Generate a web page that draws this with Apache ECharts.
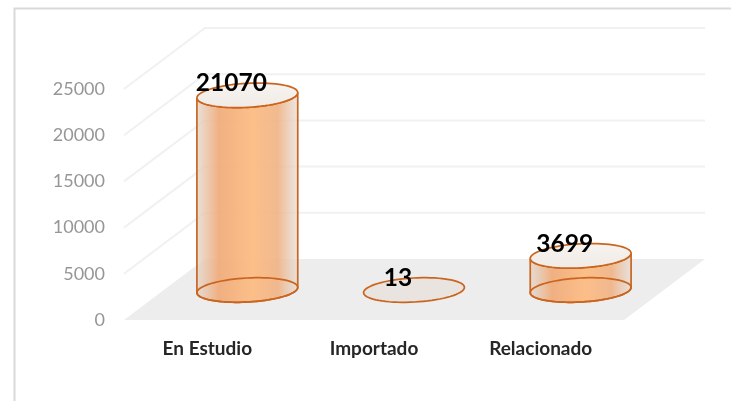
<!DOCTYPE html>
<html>
<head>
<meta charset="utf-8">
<style>html,body{margin:0;padding:0;background:#fff}#c{width:731px;height:401px}</style>
<script src="https://cdn.jsdelivr.net/npm/echarts@6/dist/echarts.min.js"></script>
</head>
<body>
<div id="c"></div>
<script>
const categories = ['En Estudio', 'Importado', 'Relacionado'];
const values = [21070, 13, 3699];
const gridTicks = [0, 5000, 10000, 15000, 20000, 25000];

const DEPTH_X = 81, DEPTH_Y = -61;      // back wall offset
const CYL_DX = 40, CYL_DY = -30;        // cylinders stand mid-depth
const RX = 50.5, RY = 12, TILT = 0.055;
const EDGE = '#c9651f';

function ellipsePt(cx, cy, a) {
  const x = RX * Math.cos(a), y = RY * Math.sin(a);
  const c = Math.cos(TILT), s = Math.sin(TILT);
  return [cx + x * c + y * s, cy - x * s + y * c];
}
function ellipsePts(cx, cy, from, to) {
  const pts = [];
  for (let i = 0; i <= 72; i++) pts.push(ellipsePt(cx, cy, from + (to - from) * i / 72));
  return pts;
}

function renderWall(params, api) {
  const cs = params.coordSys;
  const y = api.coord([0, api.value(1)])[1];
  const x0 = cs.x, x1 = cs.x + cs.width;
  const children = [];
  if (api.value(1) === 0) {
    children.push({
      type: 'polygon',
      shape: { points: [[x0, y], [x1, y], [x1 + DEPTH_X, y + DEPTH_Y], [x0 + DEPTH_X, y + DEPTH_Y]] },
      style: { fill: '#ededed' }
    });
  } else {
    children.push({
      type: 'polyline',
      shape: { points: [[x0, y], [x0 + DEPTH_X, y + DEPTH_Y], [x1 + DEPTH_X, y + DEPTH_Y]] },
      style: { fill: 'none', stroke: '#f1f1f1', lineWidth: 2 }
    });
  }
  return { type: 'group', children };
}

function renderCylinder(params, api) {
  const i = api.value(0), v = api.value(1);
  const base = api.coord([i, 0]), top = api.coord([i, v]);
  const cx = base[0] + CYL_DX, by = base[1] + CYL_DY, ty = top[1] + CYL_DY;
  const children = [];
  if (by - ty > 2) {
    const body = ellipsePts(cx, by, Math.PI, 0).concat(ellipsePts(cx, ty, 0, Math.PI));
    children.push({
      type: 'polygon',
      shape: { points: body },
      style: {
        fill: new echarts.graphic.LinearGradient(0, 0, 1, 0, [
          { offset: 0, color: 'rgba(226,214,204,0.75)' },
          { offset: 0.22, color: 'rgba(240,170,120,0.92)' },
          { offset: 0.55, color: 'rgba(252,190,135,0.98)' },
          { offset: 0.8, color: 'rgba(240,178,132,0.9)' },
          { offset: 1, color: 'rgba(228,220,214,0.7)' }
        ]),
        stroke: EDGE, lineWidth: 1.7
      }
    });
  }
  children.push({
    type: 'polygon',
    shape: { points: ellipsePts(cx, by, 0, Math.PI * 2) },
    style: { fill: by - ty > 2 ? 'none' : 'rgba(232,226,222,0.9)', stroke: EDGE, lineWidth: 1.7 }
  });
  if (by - ty > 2) {
    children.push({
      type: 'polygon',
      shape: { points: ellipsePts(cx, ty, 0, Math.PI * 2) },
      style: {
        fill: new echarts.graphic.LinearGradient(0, 0, 0, 1, [
          { offset: 0, color: '#f7f3f0' },
          { offset: 1, color: '#f0ebe6' }
        ]),
        stroke: EDGE, lineWidth: 1.7
      }
    });
  }
  children.push({
    type: 'text',
    style: {
      text: String(v),
      x: cx - 16, y: ty - 12,
      align: 'center', verticalAlign: 'middle',
      fontFamily: 'Lato', fontWeight: 'bold', fontSize: 24.5, fill: '#000'
    }
  });
  return { type: 'group', children };
}

const chart = echarts.init(document.getElementById('c'), null, { renderer: 'canvas' });
chart.setOption({
  animation: false,
  backgroundColor: '#fff',
  grid: { left: 124, width: 500, top: 89, height: 231 },
  graphic: [{
    type: 'polyline', silent: true,
    shape: { points: [[14.5, 401], [14.5, 8.5], [731, 8.5]] },
    style: { fill: 'none', stroke: '#d9d9d9', lineWidth: 2 }
  }],
  xAxis: {
    type: 'category', data: categories,
    axisLine: { show: false }, axisTick: { show: false }, splitLine: { show: false },
    axisLabel: { margin: 19, color: '#262626', fontFamily: 'Lato', fontWeight: 'bold', fontSize: 19, interval: 0 }
  },
  yAxis: {
    type: 'value', min: 0, max: 25000, interval: 5000,
    axisLine: { show: false }, axisTick: { show: false }, splitLine: { show: false },
    axisLabel: { margin: 19, color: '#969696', fontFamily: 'Lato', fontSize: 18, padding: [5, 0, 0, 0], formatter: v => String(v) }
  },
  series: [
    {
      type: 'custom', silent: true, z: 1, clip: false,
      renderItem: renderWall,
      encode: { x: 0, y: 1 },
      data: gridTicks.map(t => [0, t])
    },
    {
      type: 'custom', silent: true, z: 2, clip: false,
      renderItem: renderCylinder,
      encode: { x: 0, y: 1 },
      data: values.map((v, i) => [i, v])
    }
  ]
});
</script>
</body>
</html>
